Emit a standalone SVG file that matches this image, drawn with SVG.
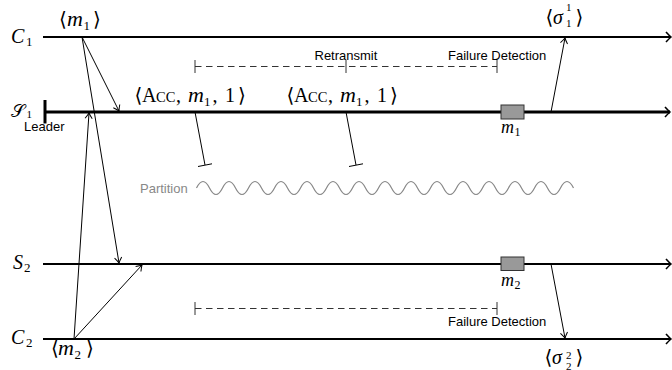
<svg xmlns="http://www.w3.org/2000/svg" width="672" height="370" viewBox="0 0 672 370">
<style>
.life{stroke:#000;stroke-width:2;fill:none}
.lead{stroke:#000;stroke-width:3;fill:none}
.msg{stroke:#000;stroke-width:1;fill:none}
.dash{stroke:#333;stroke-width:1;fill:none;stroke-dasharray:6.5 4.5}
.tick{stroke:#333;stroke-width:1;fill:none}
.m{font-family:"Liberation Serif","DejaVu Serif",serif;font-size:20px;fill:#000}
.it{font-style:italic}
.mm{font-size:22px}
.sub{font-size:13px}
.tiny{font-size:11px}
.sans{font-family:"Liberation Sans",Arial,sans-serif;font-size:13px;fill:#000}
.box{fill:#999;stroke:#333;stroke-width:1}
</style>
<defs>
<marker id="ah" markerUnits="userSpaceOnUse" markerWidth="12" markerHeight="12" viewBox="-7 -6 8 12" refX="0" refY="0" orient="auto">
<path d="M-5.5,-3.6 Q-2,-1 0,0 Q-2,1 -5.5,3.6" fill="none" stroke="#000" stroke-width="1"/>
</marker>
<marker id="ax" markerUnits="userSpaceOnUse" markerWidth="14" markerHeight="14" viewBox="-8 -7 9 14" refX="0" refY="0" orient="auto">
<path d="M-5,-5 Q-1.5,-1.2 0,0 Q-1.5,1.2 -5,5" fill="none" stroke="#000" stroke-width="1.6"/>
</marker>
</defs>

<g id="C1">
<line class="life" x1="43" y1="37" x2="671" y2="37" marker-end="url(#ax)"/>
<text class="m" y="43"><tspan class="it" x="11">C</tspan><tspan class="sub" x="26" y="46">1</tspan></text>
</g>

<g id="S1">
<line class="lead" x1="45" y1="112" x2="670" y2="112" marker-end="url(#ax)"/>
<line class="lead" x1="45" y1="100" x2="45" y2="123.5"/>
<text class="m" y="117" style="font-size:18px"><tspan x="11">𝒮</tspan><tspan class="tiny" x="26.5" y="118">1</tspan></text>
<text class="sans" x="24" y="130.5">Leader</text>
</g>

<g id="S2">
<line class="life" x1="43" y1="264" x2="671" y2="264" marker-end="url(#ax)"/>
<text class="m" y="268.5"><tspan class="it" x="13">S</tspan><tspan class="sub" x="24" y="271.5">2</tspan></text>
</g>

<g id="C2">
<line class="life" x1="43" y1="339" x2="671" y2="339" marker-end="url(#ax)"/>
<text class="m" y="344"><tspan class="it" x="11">C</tspan><tspan class="sub" x="26" y="347">2</tspan></text>
</g>

<g id="m1-box">
<rect class="box" x="501" y="105" width="23" height="14"/>
<text class="m" y="132.5" style="font-size:18px"><tspan class="it" x="501">m</tspan><tspan class="sub" x="514.5" y="136" style="font-size:12px">1</tspan></text>
</g>

<g id="m2-box">
<rect class="box" x="501" y="257" width="23" height="13.5"/>
<text class="m" y="285.5" style="font-size:18px"><tspan class="it" x="501">m</tspan><tspan class="sub" x="514.5" y="289" style="font-size:12px">2</tspan></text>
</g>

<g id="labels">
<text class="m" y="26"><tspan x="59">⟨</tspan><tspan class="it mm" x="67">m</tspan><tspan class="sub" x="83.5" y="30">1</tspan><tspan x="93" y="26">⟩</tspan></text>
<text class="m" y="355"><tspan x="51">⟨</tspan><tspan class="it mm" x="58">m</tspan><tspan class="sub" x="74.5" y="359">2</tspan><tspan x="86" y="355">⟩</tspan></text>
<text class="m" y="23.5"><tspan x="545.5">⟨</tspan><tspan class="it" x="553">σ</tspan><tspan class="tiny" x="566" y="10.5">1</tspan><tspan class="tiny" x="566" y="27">1</tspan><tspan x="575.5" y="23.5">⟩</tspan></text>
<text class="m" y="364"><tspan x="544.5">⟨</tspan><tspan class="it" x="552">σ</tspan><tspan class="tiny" x="566" y="359">2</tspan><tspan class="tiny" x="566" y="369.5">2</tspan><tspan x="575.5" y="364">⟩</tspan></text>
<text class="m" y="102"><tspan x="134.5">⟨</tspan><tspan x="142">A</tspan><tspan x="156" style="font-size:14.5px">CC</tspan><tspan x="176">,</tspan><tspan class="it mm" x="188">m</tspan><tspan class="sub" x="204" y="105.5">1</tspan><tspan x="212.5" y="102">,</tspan><tspan x="225">1</tspan><tspan x="238">⟩</tspan></text>
<text class="m" y="102"><tspan x="286.5">⟨</tspan><tspan x="294">A</tspan><tspan x="308" style="font-size:14.5px">CC</tspan><tspan x="328">,</tspan><tspan class="it mm" x="340">m</tspan><tspan class="sub" x="356" y="105.5">1</tspan><tspan x="364.5" y="102">,</tspan><tspan x="377">1</tspan><tspan x="390">⟩</tspan></text>
<text class="sans" x="314.5" y="59.5">Retransmit</text>
<text class="sans" x="448" y="60">Failure Detection</text>
<text class="sans" x="448" y="326">Failure Detection</text>
<text class="sans" x="140" y="192.5" style="fill:#888">Partition</text>
</g>

<g id="partition">
<path d="M196.5,188 q6.5,-13 13,0 t13,0 t13,0 t13,0 t13,0 t13,0 t13,0 t13,0 t13,0 t13,0 t13,0 t13,0 t13,0 t13,0 t13,0 t13,0 t13,0 t13,0 t13,0 t13,0 t13,0 t13,0 t13,0 t13,0 t13,0 t13,0 t13,0 t13,0 t13,0" fill="none" stroke="#888" stroke-width="1.2"/>
</g>

<g id="timers">
<line class="dash" x1="195" y1="66.5" x2="497" y2="66.5"/>
<line class="tick" x1="195" y1="60" x2="195" y2="73"/>
<line class="tick" x1="346" y1="60" x2="346" y2="73"/>
<line class="tick" x1="497" y1="60" x2="497" y2="73"/>
<line class="dash" x1="195" y1="308.5" x2="497" y2="308.5"/>
<line class="tick" x1="195" y1="302" x2="195" y2="315"/>
<line class="tick" x1="497" y1="302" x2="497" y2="315"/>
</g>

<g id="connectors">
<line class="msg" x1="82" y1="37" x2="119" y2="111" marker-end="url(#ah)"/>
<line class="msg" x1="82" y1="37" x2="119" y2="263" marker-end="url(#ah)"/>
<line class="msg" x1="74" y1="339" x2="89" y2="113" marker-end="url(#ah)"/>
<line class="msg" x1="74" y1="339" x2="142" y2="265" marker-end="url(#ah)"/>
<line class="msg" x1="551" y1="112" x2="565" y2="38" marker-end="url(#ah)"/>
<line class="msg" x1="551" y1="264" x2="565" y2="338" marker-end="url(#ah)"/>
<line class="msg" x1="195" y1="112" x2="205" y2="165"/>
<line class="msg" x1="198" y1="166.5" x2="212" y2="163.8"/>
<line class="msg" x1="346" y1="112" x2="356" y2="165"/>
<line class="msg" x1="349" y1="166.5" x2="363" y2="163.8"/>
</g>
</svg>
